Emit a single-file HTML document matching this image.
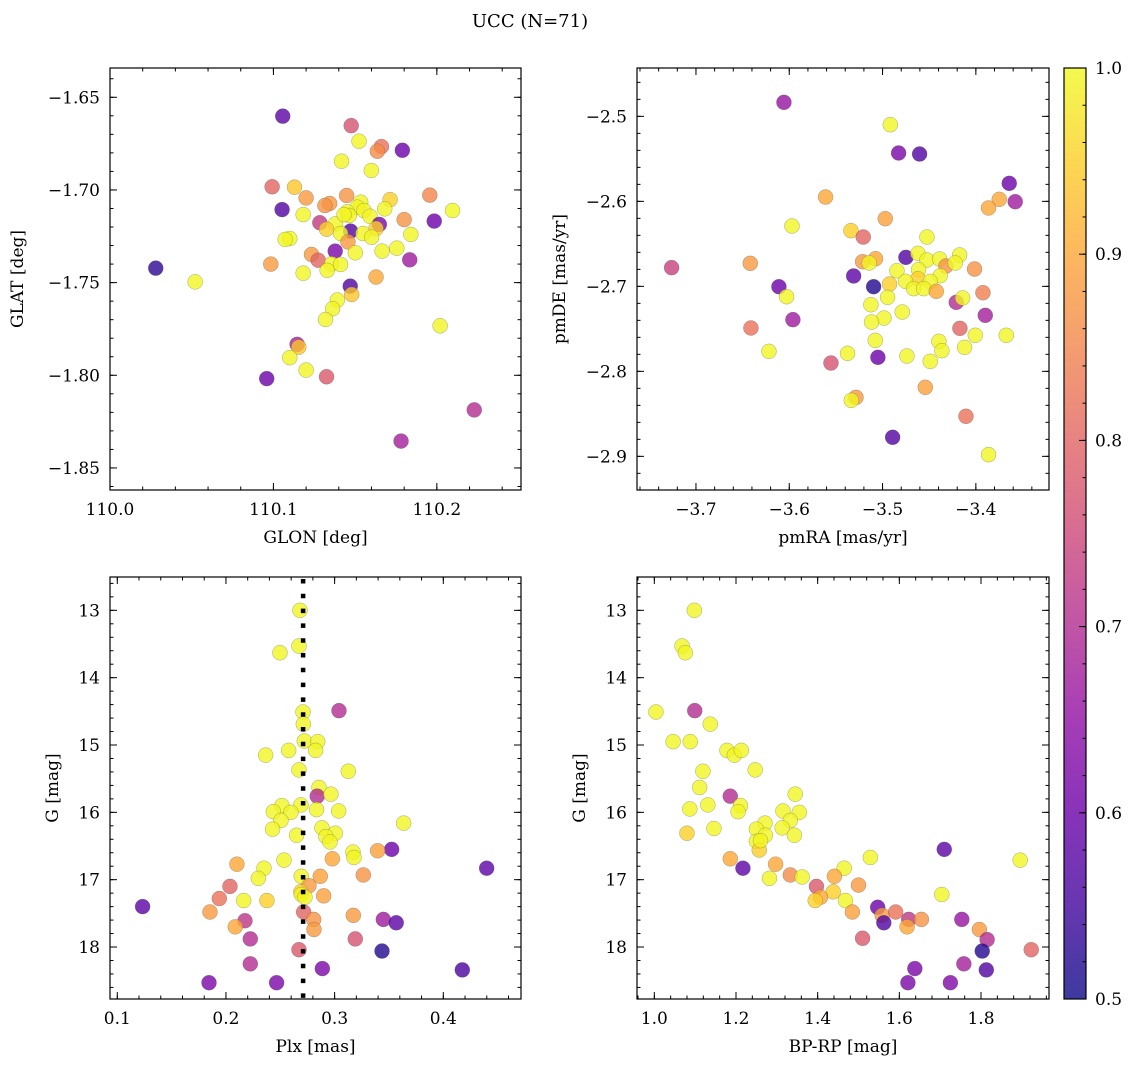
<!DOCTYPE html>
<html><head><meta charset="utf-8"><style>
html,body{margin:0;padding:0;background:#fff;}
svg{display:block;font-family:"DejaVu Serif","Liberation Serif",serif;}
</style></head><body>
<svg id="fig" width="1136" height="1067" viewBox="0 0 1136 1067" xmlns="http://www.w3.org/2000/svg">
<text x="530" y="27" font-size="18" text-anchor="middle">UCC (N=71)</text>
</svg>
<script>
// ---- Panel 1: GLON vs GLAT ----
const glon = [110.1057,110.1476,110.1524,110.1661,110.1636,110.1789,110.1417,110.1599,110.0992,110.1129,110.1200,110.1448,110.1957,110.1714,110.1344,110.1315,110.1534,110.1053,110.1513,110.1681,110.2096,110.1452,110.1554,110.1182,110.1464,110.1591,110.1800,110.1284,110.1984,110.1380,110.1648,110.1325,110.1472,110.1628,110.1411,110.1548,110.1841,110.1601,110.1100,110.1072,110.1456,110.1378,110.1501,110.1665,110.1755,110.1233,110.1274,110.1834,110.0280,110.0984,110.1356,110.1411,110.1329,110.1182,110.1628,110.0521,110.1470,110.1479,110.1391,110.1362,110.1319,110.2020,110.1145,110.1155,110.1100,110.1200,110.1325,110.0959,110.2229,110.1781,110.1432];
const glat = [-1.6602,-1.6653,-1.6737,-1.6766,-1.6791,-1.6786,-1.6845,-1.6895,-1.6983,-1.6985,-1.7043,-1.7030,-1.7028,-1.7052,-1.7073,-1.7084,-1.7066,-1.7106,-1.7093,-1.7102,-1.7111,-1.7118,-1.7111,-1.7133,-1.7138,-1.7142,-1.7160,-1.7177,-1.7168,-1.7183,-1.7186,-1.7212,-1.7222,-1.7208,-1.7235,-1.7235,-1.7240,-1.7255,-1.7262,-1.7267,-1.7280,-1.7330,-1.7339,-1.7330,-1.7314,-1.7348,-1.7379,-1.7377,-1.7422,-1.7400,-1.7399,-1.7402,-1.7434,-1.7449,-1.7470,-1.7496,-1.7519,-1.7564,-1.7594,-1.7641,-1.7699,-1.7733,-1.7833,-1.7848,-1.7905,-1.7972,-1.8008,-1.8018,-1.8187,-1.8355,-1.7133];
const prob1 = [0.58,0.77,0.995,0.82,0.86,0.6,0.995,0.995,0.8,0.94,0.88,0.87,0.85,0.95,0.88,0.87,0.995,0.57,0.995,0.995,1.0,0.995,0.995,0.995,0.995,0.995,0.87,0.73,0.6,0.995,0.62,0.95,0.57,0.95,0.995,0.995,0.995,0.995,1.0,0.995,0.88,0.62,0.995,0.995,0.995,0.88,0.8,0.67,0.53,0.88,0.995,0.995,0.995,0.995,0.9,0.995,0.57,0.94,0.995,0.995,0.995,0.995,0.68,0.94,0.995,0.995,0.78,0.6,0.7,0.68,0.995];
// ---- Panel 2: pmRA vs pmDE ----
const pmra = [-3.6057,-3.4917,-3.4828,-3.4603,-3.3642,-3.5611,-3.3749,-3.3864,-3.3578,-3.4971,-3.5971,-3.5339,-3.5207,-3.4524,-3.4750,-3.4621,-3.4174,-3.5075,-3.5214,-3.5143,-3.4524,-3.4389,-3.4321,-3.4221,-3.4014,-3.6418,-3.7261,-3.4846,-3.4614,-3.5310,-3.4382,-3.4621,-3.4753,-3.4489,-3.5096,-3.4925,-3.6111,-3.4667,-3.4560,-3.4424,-3.3924,-3.4946,-3.6029,-3.4210,-3.4142,-3.5125,-3.4789,-3.3899,-3.5961,-3.4985,-3.5118,-3.6411,-3.4171,-3.4006,-3.3674,-3.4396,-3.5078,-3.4364,-3.4121,-3.6218,-3.5375,-3.5050,-3.4739,-3.4489,-3.5553,-3.4542,-3.5285,-3.5335,-3.4106,-3.4892,-3.3864];
const pmde = [-2.4835,-2.5098,-2.5431,-2.5443,-2.5788,-2.5949,-2.5976,-2.6078,-2.6004,-2.6204,-2.6290,-2.6345,-2.6420,-2.6420,-2.6659,-2.6612,-2.6631,-2.6675,-2.6710,-2.6725,-2.6690,-2.6678,-2.6761,-2.6725,-2.6796,-2.6729,-2.6780,-2.6816,-2.6804,-2.6878,-2.6875,-2.6910,-2.6941,-2.6941,-2.7004,-2.6973,-2.7004,-2.7027,-2.7027,-2.7059,-2.7075,-2.7129,-2.7122,-2.7188,-2.7137,-2.7216,-2.7302,-2.7341,-2.7392,-2.7373,-2.7420,-2.7490,-2.7494,-2.7576,-2.7576,-2.7647,-2.7635,-2.7757,-2.7718,-2.7765,-2.7788,-2.7835,-2.7820,-2.7882,-2.7902,-2.8188,-2.8306,-2.8341,-2.8529,-2.8776,-2.8980];
const prob2 = [0.66,0.995,0.62,0.57,0.6,0.9,0.9,0.9,0.67,0.89,0.995,0.95,0.8,0.995,0.57,0.995,0.995,0.9,0.88,0.995,0.995,0.995,0.87,0.995,0.87,0.88,0.74,0.995,0.995,0.58,0.995,0.95,0.995,0.995,0.52,0.95,0.6,0.995,0.995,0.9,0.84,0.995,0.995,0.7,0.995,0.995,0.995,0.68,0.67,0.995,0.995,0.82,0.8,0.995,0.995,0.995,0.995,0.995,0.995,0.995,0.995,0.6,0.995,0.995,0.77,0.89,0.88,0.995,0.82,0.57,0.995];
// ---- Panel 3: Plx vs G ----
const plx = [0.2681,0.2672,0.2497,0.3040,0.2709,0.2712,0.2721,0.2844,0.2577,0.2825,0.2365,0.2672,0.3126,0.2856,0.2840,0.2966,0.2515,0.2690,0.2834,0.2436,0.2598,0.3037,0.2506,0.3635,0.2429,0.2883,0.3006,0.2650,0.2920,0.2957,0.3525,0.3396,0.3169,0.3178,0.2979,0.2534,0.2101,0.2350,0.4399,0.3264,0.2868,0.2693,0.2298,0.2764,0.2037,0.2690,0.2693,0.2899,0.1939,0.2163,0.2377,0.1233,0.2715,0.1853,0.2807,0.2175,0.3172,0.3448,0.3567,0.2086,0.2810,0.2224,0.3190,0.2672,0.3436,0.2224,0.2887,0.4175,0.1844,0.2466,0.2727];
const gmag3 = [13.00,13.53,13.63,14.49,14.51,14.69,14.94,14.95,15.08,15.08,15.15,15.37,15.39,15.63,15.76,15.73,15.90,15.89,15.96,15.99,16.00,15.98,16.12,16.16,16.25,16.23,16.31,16.34,16.36,16.44,16.55,16.57,16.59,16.67,16.69,16.71,16.77,16.83,16.83,16.93,16.95,16.95,16.98,17.09,17.10,17.18,17.22,17.24,17.28,17.31,17.31,17.40,17.48,17.48,17.59,17.61,17.53,17.59,17.64,17.70,17.74,17.88,17.88,18.04,18.06,18.25,18.32,18.34,18.53,18.53,17.26];
const prob3 = [0.995,0.995,0.995,0.7,0.995,0.995,0.995,0.995,0.995,0.995,0.995,0.995,0.995,0.995,0.7,0.995,0.995,0.995,0.995,0.995,0.995,0.995,0.995,0.995,0.995,0.995,0.995,0.995,0.995,0.995,0.6,0.89,0.995,0.995,0.9,0.995,0.9,0.995,0.58,0.87,0.89,0.995,0.995,0.88,0.8,0.95,0.995,0.89,0.82,0.995,0.95,0.58,0.8,0.88,0.87,0.72,0.88,0.67,0.58,0.9,0.88,0.7,0.77,0.78,0.52,0.7,0.62,0.56,0.62,0.62,0.995];
const plxRef = [0.271];
// ---- Panel 4: BP-RP vs G ----
const bprp = [1.098,1.068,1.076,1.004,1.099,1.137,1.046,1.088,1.178,1.196,1.213,1.247,1.119,1.111,1.345,1.186,1.087,1.131,1.211,1.205,1.315,1.355,1.271,1.333,1.080,1.146,1.250,1.313,1.272,1.343,1.250,1.257,1.710,1.186,1.529,1.896,1.217,1.465,1.297,1.282,1.333,1.362,1.441,1.500,1.397,1.438,1.704,1.407,1.394,1.468,1.485,1.547,1.558,1.562,1.591,1.623,1.654,1.619,1.753,1.796,1.815,1.510,1.803,1.923,1.758,1.813,1.638,1.621,1.725,1.260];
const gmag4 = [13.00,13.53,13.63,14.51,14.49,14.69,14.95,14.95,15.08,15.15,15.08,15.37,15.39,15.63,15.73,15.76,15.95,15.89,15.90,15.99,15.98,16.00,16.16,16.12,16.31,16.24,16.25,16.23,16.34,16.34,16.43,16.56,16.55,16.69,16.67,16.71,16.83,16.83,16.77,16.98,16.93,16.96,16.95,17.08,17.10,17.18,17.22,17.26,17.31,17.31,17.48,17.41,17.53,17.64,17.48,17.59,17.59,17.70,17.59,17.74,17.89,17.87,18.06,18.04,18.25,18.34,18.32,18.53,18.53,16.42];
const prob4 = [0.995,0.995,0.995,0.995,0.7,0.995,0.995,0.995,0.995,0.995,0.995,0.995,0.995,0.995,0.995,0.7,0.995,0.995,0.995,0.995,0.995,0.995,0.995,0.995,0.95,0.995,0.995,0.995,0.995,0.995,0.995,0.95,0.58,0.9,0.995,0.995,0.58,0.995,0.9,0.995,0.86,0.995,0.9,0.88,0.78,0.95,0.995,0.9,0.95,0.995,0.89,0.6,0.88,0.57,0.82,0.72,0.87,0.9,0.66,0.88,0.7,0.78,0.52,0.8,0.68,0.57,0.62,0.62,0.63,0.995];
// ---- Colorbar ----
const cbTicks = [0.5,0.6,0.7,0.8,0.9,1.0];
const cbLabels = ["0.5","0.6","0.7","0.8","0.9","1.0"];
const tl_xticks=[110.0,110.1,110.2], tl_xlabels=["110.0","110.1","110.2"];
const tl_yticks=[-1.65,-1.70,-1.75,-1.80,-1.85], tl_ylabels=["\u22121.65","\u22121.70","\u22121.75","\u22121.80","\u22121.85"];
const tr_xticks=[-3.7,-3.6,-3.5,-3.4], tr_xlabels=["\u22123.7","\u22123.6","\u22123.5","\u22123.4"];
const tr_yticks=[-2.5,-2.6,-2.7,-2.8,-2.9], tr_ylabels=["\u22122.5","\u22122.6","\u22122.7","\u22122.8","\u22122.9"];
const bl_xticks=[0.1,0.2,0.3,0.4], bl_xlabels=["0.1","0.2","0.3","0.4"];
const g_yticks=[13,14,15,16,17,18], g_ylabels=["13","14","15","16","17","18"];
const br_xticks=[1.0,1.2,1.4,1.6,1.8], br_xlabels=["1.0","1.2","1.4","1.6","1.8"];

const NS="http://www.w3.org/2000/svg";
const fig=document.getElementById('fig');
const FS=17;
function mk(tag,attrs,parent){const e=document.createElementNS(NS,tag);for(const k in attrs)e.setAttribute(k,attrs[k]);(parent||fig).appendChild(e);return e;}
const stops=["#0d0887","#41049d","#6a00a8","#8f0da4","#b12a90","#cc4778","#e16462","#f2844b","#fca636","#fcce25","#f0f921"];
function hex(h){return [parseInt(h.substr(1,2),16),parseInt(h.substr(3,2),16),parseInt(h.substr(5,2),16)];}
function plasma(v){let t=(v-0.5)/0.5;t=Math.max(0,Math.min(1,t));const f=t*10;const i=Math.min(9,Math.floor(f));const r=f-i;const a=hex(stops[i]),b=hex(stops[i+1]);return "rgb("+a.map((c,k)=>Math.round(c+(b[k]-c)*r)).join(",")+")";}
function lin(d0,d1,p0,p1){return v=>p0+(v-d0)*(p1-p0)/(d1-d0);}

function panel(o){
  const g=mk('g',{});
  
  
  const X=lin(o.xlim[0],o.xlim[1],o.L,o.R), Y=lin(o.ylim[0],o.ylim[1],o.T,o.B);
  const pts=mk('g',{},g);
  
  
  for(let i=0;i<o.xs.length;i++){
    const c=mk('circle',{cx:X(o.xs[i]),cy:Y(o.ys[i]),r:7.5,fill:plasma(o.cs[i]),'fill-opacity':0.8,stroke:'#555','stroke-opacity':0.5,'stroke-width':0.5},pts);
    
    
  }
  if(o.vline){
    const l=mk('line',{x1:X(o.vline),x2:X(o.vline),y1:o.T+2,y2:o.B,stroke:'#000','stroke-width':4.5,'stroke-dasharray':'4.5 10.3'},g);
    
    
  }
  const fr=mk('rect',{x:o.L,y:o.T,width:o.R-o.L,height:o.B-o.T,fill:'none',stroke:'#000','stroke-width':1.2},g);
  
  
  const xs0=Math.min(o.xlim[0],o.xlim[1]),xs1=Math.max(o.xlim[0],o.xlim[1]);
  const ys0=Math.min(o.ylim[0],o.ylim[1]),ys1=Math.max(o.ylim[0],o.ylim[1]);
  function tk(lo,hi,step,len,isX){
    const n0=Math.ceil(lo/step-1e-6),n1=Math.floor(hi/step+1e-6);
    for(let n=n0;n<=n1;n++){const v=n*step;
      if(isX){const x=X(v);mk('line',{x1:x,x2:x,y1:o.B,y2:o.B-len,stroke:'#000','stroke-width':1},g);mk('line',{x1:x,x2:x,y1:o.T,y2:o.T+len,stroke:'#000','stroke-width':1},g);}
      else{const y=Y(v);mk('line',{x1:o.L,x2:o.L+len,y1:y,y2:y,stroke:'#000','stroke-width':1},g);mk('line',{x1:o.R,x2:o.R-len,y1:y,y2:y,stroke:'#000','stroke-width':1},g);}
    }}
  tk(xs0,xs1,o.xminor,3.5,true);tk(xs0,xs1,o.xmajor,7,true);
  tk(ys0,ys1,o.yminor,3.5,false);tk(ys0,ys1,o.ymajor,7,false);
  o.xticks.forEach((v,i)=>{const t=mk('text',{x:X(v),y:o.B+25,'font-size':FS,'text-anchor':'middle'},g);t.textContent=o.xlabels[i];
    
    });
  o.yticks.forEach((v,i)=>{const t=mk('text',{x:o.L-10,y:Y(v)+6,'font-size':FS,'text-anchor':'end'},g);t.textContent=o.ylabels[i];
    
    });
  const xt=mk('text',{x:(o.L+o.R)/2,y:o.B+53,'font-size':FS,'text-anchor':'middle'},g);xt.textContent=o.xtitle;
  
  
  const yx=o.ytx,yy=(o.T+o.B)/2;
  const yt=mk('text',{x:yx,y:yy,'font-size':FS,'text-anchor':'middle',transform:'rotate(-90 '+yx+' '+yy+')'},g);yt.textContent=o.ytitle;
  
  
}
panel({name:'glon-glat-panel',L:110,R:521,T:68,B:490,xlim:[110.0,110.2515],ylim:[-1.6342,-1.8619],xs:glon,ys:glat,cs:prob1,xmajor:0.1,xminor:0.02,ymajor:0.05,yminor:0.01,xticks:tl_xticks,xlabels:tl_xlabels,yticks:tl_yticks,ylabels:tl_ylabels,xtitle:'GLON [deg]',ytitle:'GLAT [deg]',ytx:23});
panel({name:'pm-panel',L:637,R:1049,T:68,B:490,xlim:[-3.7632,-3.3216],ylim:[-2.4431,-2.9396],xs:pmra,ys:pmde,cs:prob2,xmajor:0.1,xminor:0.02,ymajor:0.1,yminor:0.02,xticks:tr_xticks,xlabels:tr_xlabels,yticks:tr_yticks,ylabels:tr_ylabels,xtitle:'pmRA [mas/yr]',ytitle:'pmDE [mas/yr]',ytx:565});
panel({name:'plx-g-panel',L:110,R:521,T:577,B:999,xlim:[0.0933,0.4715],ylim:[12.505,18.772],xs:plx,ys:gmag3,cs:prob3,xmajor:0.1,xminor:0.02,ymajor:1,yminor:0.2,xticks:bl_xticks,xlabels:bl_xlabels,yticks:g_yticks,ylabels:g_ylabels,xtitle:'Plx [mas]',ytitle:'G [mag]',ytx:58,vline:plxRef[0]});
panel({name:'cmd-panel',L:637,R:1049,T:577,B:999,xlim:[0.9576,1.9665],ylim:[12.505,18.772],xs:bprp,ys:gmag4,cs:prob4,xmajor:0.2,xminor:0.04,ymajor:1,yminor:0.2,xticks:br_xticks,xlabels:br_xlabels,yticks:g_yticks,ylabels:g_ylabels,xtitle:'BP-RP [mag]',ytitle:'G [mag]',ytx:585});

const cb=mk('g',{});


const defs=mk('defs',{},cb);
const gr=mk('linearGradient',{id:'plasmaGrad',x1:0,y1:1,x2:0,y2:0},defs);
stops.forEach((s,i)=>mk('stop',{offset:i/10,'stop-color':s,'stop-opacity':0.8},gr));
const CBY=lin(0.5,1.0,999,68);
mk('rect',{x:1064,y:68,width:22,height:931,fill:'url(#plasmaGrad)',stroke:'#000','stroke-width':1.2},cb);
for(let v=0.5;v<=1.0001;v+=0.02){const y=CBY(v);mk('line',{x1:1086,x2:1082.5,y1:y,y2:y,stroke:'#000','stroke-width':1},cb);}
cbTicks.forEach((v,i)=>{const y=CBY(v);mk('line',{x1:1086,x2:1079,y1:y,y2:y,stroke:'#000','stroke-width':1},cb);
  const t=mk('text',{x:1095,y:y+6,'font-size':FS},cb);t.textContent=cbLabels[i];
  
  });
</script>
</body></html>
